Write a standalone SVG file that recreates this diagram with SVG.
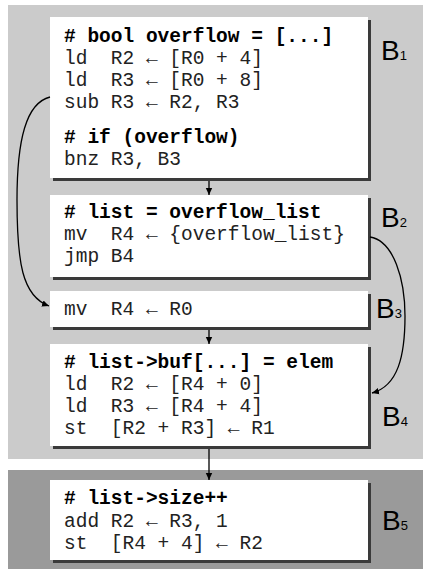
<svg xmlns="http://www.w3.org/2000/svg" width="423" height="572" viewBox="0 0 423 572">
<defs>
<marker id="ah" markerWidth="8" markerHeight="8" refX="7" refY="4" orient="auto" markerUnits="userSpaceOnUse">
<path d="M0,0.8 L7,4 L0,7.2 Z" fill="#000"/>
</marker>
<style>
.box{fill:#fff}
.sh{fill:#3a3a3a}
.code{font-family:"Liberation Mono","DejaVu Sans Mono",monospace;font-size:19.5px;fill:#222;white-space:pre}
.b{font-weight:bold;fill:#000}
.lbl{font-family:"Liberation Sans",Arial,sans-serif;font-size:28px;fill:#000}
.sub{font-size:13px}
.edge{fill:none;stroke:#000;stroke-width:1.3;marker-end:url(#ah)}
</style>
</defs>
<rect x="8" y="5" width="415" height="454" fill="#cbcbcb"/>
<rect x="8" y="470" width="415" height="99" fill="#9a9a9a"/>

<g id="B1">
<rect class="sh" x="53" y="20" width="318" height="161"/>
<rect class="box" x="50" y="17" width="318" height="161"/>
<text class="code b" x="64" y="42"># bool overflow = [...]</text>
<text class="code" x="64" y="64">ld  R2 ← [R0 + 4]</text>
<text class="code" x="64" y="86">ld  R3 ← [R0 + 8]</text>
<text class="code" x="64" y="108">sub R3 ← R2, R3</text>
<text class="code b" x="64" y="143"># if (overflow)</text>
<text class="code" x="64" y="165">bnz R3, B3</text>
<text class="lbl" x="381" y="60">B<tspan class="sub">1</tspan></text>
</g>

<g id="B2">
<rect class="sh" x="53" y="198" width="318" height="82"/>
<rect class="box" x="50" y="195" width="318" height="82"/>
<text class="code b" x="64" y="218"># list = overflow_list</text>
<text class="code" x="64" y="240">mv  R4 ← {overflow_list}</text>
<text class="code" x="64" y="262">jmp B4</text>
<text class="lbl" x="381" y="227">B<tspan class="sub">2</tspan></text>
</g>

<g id="B3">
<rect class="sh" x="53" y="294" width="318" height="36"/>
<rect class="box" x="50" y="291" width="318" height="36"/>
<text class="code" x="64" y="315">mv  R4 ← R0</text>
<text class="lbl" x="376" y="318">B<tspan class="sub">3</tspan></text>
</g>

<g id="B4">
<rect class="sh" x="53" y="347" width="318" height="102"/>
<rect class="box" x="50" y="344" width="318" height="102"/>
<text class="code b" x="64" y="368"># list-&gt;buf[...] = elem</text>
<text class="code" x="64" y="390">ld  R2 ← [R4 + 0]</text>
<text class="code" x="64" y="412">ld  R3 ← [R4 + 4]</text>
<text class="code" x="64" y="434">st  [R2 + R3] ← R1</text>
<text class="lbl" x="382" y="426">B<tspan class="sub">4</tspan></text>
</g>

<g id="B5">
<rect class="sh" x="53" y="483" width="318" height="80"/>
<rect class="box" x="50" y="480" width="318" height="80"/>
<text class="code b" x="64" y="504"># list-&gt;size++</text>
<text class="code" x="64" y="527">add R2 ← R3, 1</text>
<text class="code" x="64" y="549">st  [R4 + 4] ← R2</text>
<text class="lbl" x="382" y="530">B<tspan class="sub">5</tspan></text>
</g>

<g id="edges">
<path class="edge" d="M209,181 L209,195"/>
<path class="edge" d="M209,330 L209,344"/>
<path class="edge" d="M209,449 L209,480"/>
<path class="edge" d="M50,97 C26,103 17,140 17,200 C17,262 22,296 49,306"/>
<path class="edge" d="M370,237 C394,241 405,280 405,316 C405,356 398,386 372,393"/>
</g>
</svg>
